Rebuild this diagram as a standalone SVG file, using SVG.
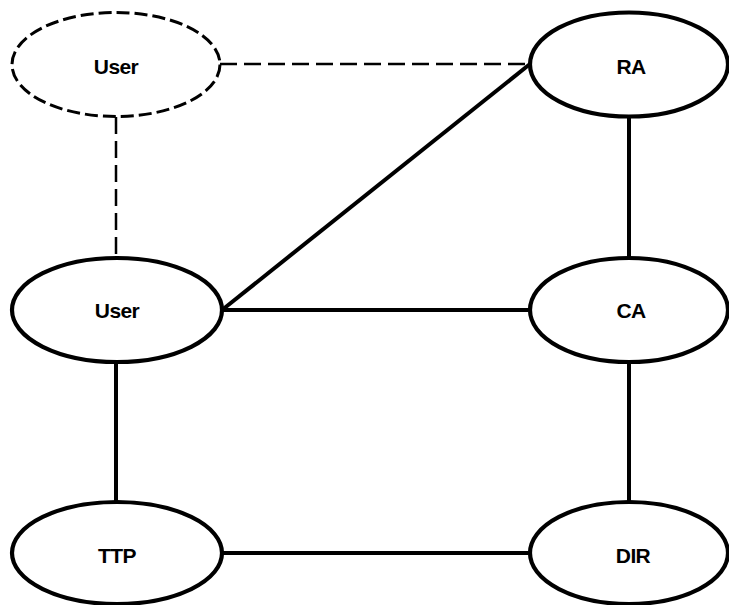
<svg xmlns="http://www.w3.org/2000/svg" width="729" height="605" viewBox="0 0 729 605">
<style>
.n{fill:#fff;stroke:#000;stroke-width:4.2}
.d{fill:#fff;stroke:#000;stroke-width:3;stroke-dasharray:13 5}
.l{stroke:#000;stroke-width:4;fill:none}
.ld{stroke:#000;stroke-width:2.5;fill:none;stroke-dasharray:17 7}
text{font-family:"Liberation Sans",Arial,sans-serif;font-size:21px;font-weight:bold;text-anchor:middle;letter-spacing:-0.6px}
</style>
<rect width="729" height="605" fill="#fff"/>
<g id="connectors">
<line class="ld" x1="220" y1="64" x2="530" y2="64"/>
<line class="ld" x1="116" y1="117" x2="116" y2="258"/>
<line class="l" x1="222" y1="310" x2="530" y2="64"/>
<line class="l" x1="222" y1="310" x2="528" y2="310"/>
<line class="l" x1="629" y1="117" x2="629" y2="258"/>
<line class="l" x1="116" y1="363" x2="116" y2="502"/>
<line class="l" x1="629" y1="363" x2="629" y2="502"/>
<line class="l" x1="222" y1="553" x2="528" y2="553"/>
</g>
<g id="user1"><ellipse class="d" cx="116" cy="64.5" rx="104" ry="52"/><text x="116" y="74">User</text></g>
<g id="ra"><ellipse class="n" cx="629" cy="64.5" rx="99" ry="52"/><text x="631" y="74">RA</text></g>
<g id="user2"><ellipse class="n" cx="117" cy="310" rx="105" ry="52"/><text x="117" y="318">User</text></g>
<g id="ca"><ellipse class="n" cx="629" cy="310" rx="99" ry="52"/><text x="631" y="318">CA</text></g>
<g id="ttp"><ellipse class="n" cx="117" cy="553" rx="105" ry="51"/><text x="117" y="563">TTP</text></g>
<g id="dir"><ellipse class="n" cx="629" cy="553" rx="99" ry="51"/><text x="633" y="563">DIR</text></g>
</svg>
